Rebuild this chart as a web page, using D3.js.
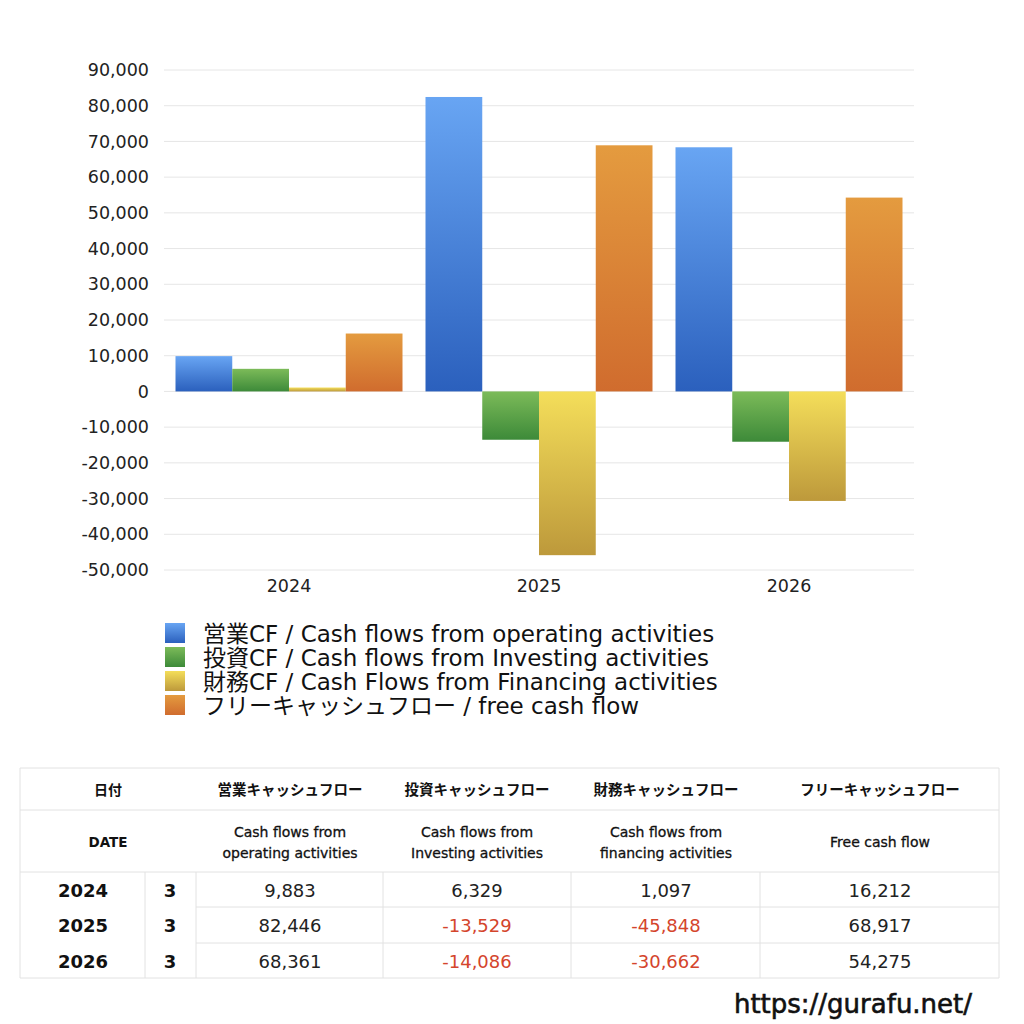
<!DOCTYPE html>
<html><head><meta charset="utf-8">
<script src="https://cdn.jsdelivr.net/npm/d3@7"></script>
<style>
html,body{margin:0;padding:0;background:#fff;}
svg{display:block;font-family:"DejaVu Sans","Noto Sans CJK JP",sans-serif;}
</style></head>
<body><svg id="c" width="1024" height="1024"></svg>
<script>
const years = ["2024","2025","2026"];
const months = ["3","3","3"];
const seriesKeys = ["op","inv","fin","free"];
const seriesLegend = [
  "営業CF / Cash flows from operating activities",
  "投資CF / Cash flows from Investing activities",
  "財務CF / Cash Flows from Financing activities",
  "フリーキャッシュフロー / free cash flow"
];
const headerJa = ["営業キャッシュフロー","投資キャッシュフロー","財務キャッシュフロー","フリーキャッシュフロー"];
const headerEn = [["Cash flows from","operating activities"],["Cash flows from","Investing activities"],["Cash flows from","financing activities"],["Free cash flow"]];
const operating = [9883, 82446, 68361];
const investing = [6329, -13529, -14086];
const financing = [1097, -45848, -30662];
const freeCF = [16212, 68917, 54275];
const yTicks = [90000,80000,70000,60000,50000,40000,30000,20000,10000,0,-10000,-20000,-30000,-40000,-50000];
const gradTop = ["#68a5f3","#7cbb59","#f4de5a","#e49b3f"];
const gradBot = ["#2b60bd","#3d8a39","#bd993b","#d06c2e"];

const seriesVals = [operating, investing, financing, freeCF];
const svg = d3.select("#c");
const defs = svg.append("defs");
seriesKeys.forEach((k,i)=>{
  const g = defs.append("linearGradient").attr("id","g"+k).attr("x1",0).attr("y1",0).attr("x2",0).attr("y2",1);
  g.append("stop").attr("offset","0%").attr("stop-color",gradTop[i]);
  g.append("stop").attr("offset","100%").attr("stop-color",gradBot[i]);
});

const x0 = d3.scaleBand().domain(years).range([164,914]).paddingInner(0.092).paddingOuter(0.046);
const x1 = d3.scaleBand().domain(seriesKeys).range([0,x0.bandwidth()]).padding(0);
const y = d3.scaleLinear().domain([-50000,90000]).range([570,70]);
const f0 = d3.format(",");
const fmt = v => f0(v).replace("\u2212","-");
const cjk = "'Noto Sans CJK JP',sans-serif";

// grid
svg.append("g").selectAll("line").data(yTicks).join("line")
  .attr("x1",164).attr("x2",914).attr("y1",d=>y(d)).attr("y2",d=>y(d))
  .attr("stroke","#e6e6e6").attr("stroke-width",1);

// y axis labels
const yAxis = d3.axisLeft(y).tickValues(yTicks).tickFormat(fmt).tickSize(0).tickPadding(0);
const ya = svg.append("g").attr("transform","translate(149,0)").call(yAxis);
ya.select(".domain").remove();
ya.selectAll("text").attr("font-size",17.5).attr("fill","#222").attr("font-family","'DejaVu Sans',sans-serif");

// x axis labels
const xAxis = d3.axisBottom(x0).tickSize(0).tickPadding(0);
const xa = svg.append("g").attr("transform","translate(0,580)").call(xAxis);
xa.select(".domain").remove();
xa.selectAll("text").attr("font-size",17.5).attr("fill","#222").attr("font-family","'DejaVu Sans',sans-serif");

// bars
years.forEach((yr,yi)=>{
  const g = svg.append("g").attr("transform",`translate(${x0(yr)},0)`);
  g.selectAll("rect").data(seriesKeys.map((k,i)=>({k, v:seriesVals[i][yi]}))).join("rect")
    .attr("x",d=>x1(d.k)).attr("width",x1.bandwidth())
    .attr("y",d=>y(Math.max(0,d.v))).attr("height",d=>Math.abs(y(d.v)-y(0)))
    .attr("fill",d=>`url(#g${d.k})`);
});

// legend
const lg = svg.append("g");
seriesLegend.forEach((t,i)=>{
  const yy = 634 + i*24;
  lg.append("rect").attr("x",165).attr("y",yy-11).attr("width",20).attr("height",20).attr("fill",`url(#g${seriesKeys[i]})`);
  lg.append("text").attr("x",203).attr("y",yy+8).attr("font-size",23).attr("fill","#111").text(t);
});

// table
const T = svg.append("g");
const lineC = "#e2e2e2";
const rowY = [768,810,872,907,943,978];
function hl(x1_,x2_,yy){T.append("line").attr("x1",x1_).attr("x2",x2_).attr("y1",yy).attr("y2",yy).attr("stroke",lineC);}
function vl(xx,y1_,y2_){T.append("line").attr("x1",xx).attr("x2",xx).attr("y1",y1_).attr("y2",y2_).attr("stroke",lineC);}
hl(20,999,768); hl(20,999,810); hl(20,999,872); hl(20,999,978);
hl(196,999,907); hl(196,999,943);
vl(20,768,978); vl(999,768,978);
[145,196,383,571,760].forEach(xx=>vl(xx,872,978));
T.append("text").attr("x",108).attr("y",795).attr("text-anchor","middle").attr("font-size",14).attr("font-weight","bold").attr("font-family",cjk).attr("fill","#111").text("日付");
T.append("text").attr("x",108).attr("y",847).attr("text-anchor","middle").attr("font-size",13.5).attr("font-weight","bold").attr("fill","#111").text("DATE");
const centers = [290,477,666,880];
headerJa.forEach((h,i)=>{
  T.append("text").attr("x",centers[i]).attr("y",795).attr("text-anchor","middle").attr("font-size",14.5).attr("font-weight","bold").attr("font-family",cjk).attr("fill","#111").text(h);
  const lines = headerEn[i];
  lines.forEach((l,j)=>{
    const yy = lines.length===1 ? 847 : 837 + j*21;
    T.append("text").attr("x",centers[i]).attr("y",yy).attr("text-anchor","middle").attr("font-size",14).attr("fill","#111")
      .attr("stroke","#111").attr("stroke-width",0.3).text(l);
  });
});
years.forEach((yr,ri)=>{
  const cy = (rowY[2+ri]+rowY[3+ri])/2 + 7;
  T.append("text").attr("x",83).attr("y",cy).attr("text-anchor","middle").attr("font-size",18).attr("font-weight","bold").attr("fill","#111").text(yr);
  T.append("text").attr("x",170).attr("y",cy).attr("text-anchor","middle").attr("font-size",18).attr("font-weight","bold").attr("fill","#111").text(months[ri]);
  seriesVals.forEach((arr,ci)=>{
    const v = arr[ri];
    T.append("text").attr("x",centers[ci]).attr("y",cy).attr("text-anchor","middle").attr("font-size",18)
      .attr("fill", v<0 ? "#d4452c" : "#222").text(fmt(v));
  });
});
svg.append("text").attr("x",853).attr("y",1013).attr("text-anchor","middle").attr("font-size",26).attr("fill","#111")
  .attr("stroke","#111").attr("stroke-width",0.6).text("https://gurafu.net/");
</script></body></html>
